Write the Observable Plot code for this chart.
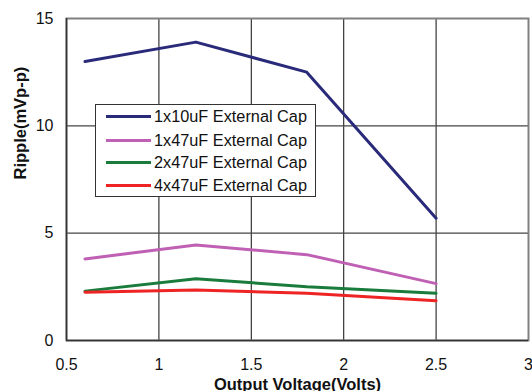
<!DOCTYPE html>
<html>
<head>
<meta charset="utf-8">
<script src="https://cdn.jsdelivr.net/npm/d3@7"></script>
<script src="https://cdn.jsdelivr.net/npm/@observablehq/plot@0.6"></script>
<style>
  html, body { margin: 0; padding: 0; background: #fff; }
  #wrap { position: relative; width: 532px; height: 391px; overflow: hidden; font-family: "Liberation Sans", Arial, sans-serif; }
  #legend { position: absolute; left: 95px; top: 104px; width: 221px; height: 93px; border: 1px solid #333; background: #fff; box-sizing: border-box; }
  .item { position: absolute; left: 0; height: 20px; display: flex; align-items: center; font-size: 16.3px; color: #111; white-space: nowrap; }
  .swatch { display: inline-block; width: 45px; height: 3px; margin-left: 10px; margin-right: 3px; }
</style>
</head>
<body>
<div id="wrap"></div>
<script>
const voltages = [0.6, 1.2, 1.8, 2.5];
const seriesNames = ["1x10uF External Cap", "1x47uF External Cap", "2x47uF External Cap", "4x47uF External Cap"];
const seriesColors = ["#2a2a7a", "#c060b4", "#1a7c3c", "#ee2424"];
const cap1x10 = [13.0, 13.9, 12.5, 5.7];
const cap1x47 = [3.8, 4.45, 4.0, 2.65];
const cap2x47 = [2.3, 2.88, 2.5, 2.2];
const cap4x47 = [2.25, 2.35, 2.2, 1.85];
const xTicks = [0.5, 1, 1.5, 2, 2.5, 3];
const yTicks = [0, 5, 10, 15];
const xLabel = "Output Voltage(Volts)";
const yLabel = "Ripple(mVp-p)";

const seriesValues = [cap1x10, cap1x47, cap2x47, cap4x47];
const data = [];
seriesNames.forEach((name, i) => {
  voltages.forEach((v, j) => data.push({series: name, x: v, y: seriesValues[i][j]}));
});

const chart = Plot.plot({
  width: 532,
  height: 391,
  marginLeft: 66,
  marginRight: 4,
  marginTop: 18,
  marginBottom: 51,
  style: {fontFamily: "'Liberation Sans', Arial, sans-serif", fontSize: "16px", color: "#111", background: "#fff"},
  x: {domain: [0.5, 3], ticks: xTicks, tickFormat: d => String(d), label: null},
  y: {domain: [0, 15], ticks: yTicks, label: null},
  color: {domain: seriesNames, range: seriesColors},
  marks: [
    Plot.gridX(xTicks.slice(1, -1), {stroke: "#222", strokeOpacity: 1, strokeWidth: 1.1}),
    Plot.gridY(yTicks.slice(1, -1), {stroke: "#444", strokeOpacity: 1, strokeWidth: 1.3}),
    Plot.frame({stroke: "#808080", strokeWidth: 2}),
    Plot.ruleX([0.5], {stroke: "#333", strokeWidth: 1.5}),
    Plot.ruleY([0], {stroke: "#333", strokeWidth: 1.5}),
    Plot.axisX({ticks: xTicks, tickSize: 0, tickPadding: 18, tickFormat: d => String(d), label: null}),
    Plot.axisY({ticks: yTicks, tickSize: 0, tickPadding: 13, label: null}),
    Plot.line(data, {x: "x", y: "y", z: "series", stroke: "series", strokeWidth: 3}),
    Plot.text([xLabel], {frameAnchor: "bottom", dy: 49, fontWeight: "bold", fontSize: 16.5, fill: "#111"}),
    Plot.text([yLabel], {frameAnchor: "left", dx: -46, rotate: -90, fontWeight: "bold", fontSize: 16.5, fill: "#111"})
  ]
});

const wrap = document.getElementById("wrap");
wrap.appendChild(chart);

const legend = document.createElement("div");
legend.id = "legend";
const rowTops = [1, 25, 47, 70];
seriesNames.forEach((name, i) => {
  const item = document.createElement("div");
  item.className = "item";
  item.style.top = rowTops[i] + "px";
  const sw = document.createElement("span");
  sw.className = "swatch";
  sw.style.background = seriesColors[i];
  item.appendChild(sw);
  item.appendChild(document.createTextNode(name));
  legend.appendChild(item);
});
wrap.appendChild(legend);
</script>
</body>
</html>
